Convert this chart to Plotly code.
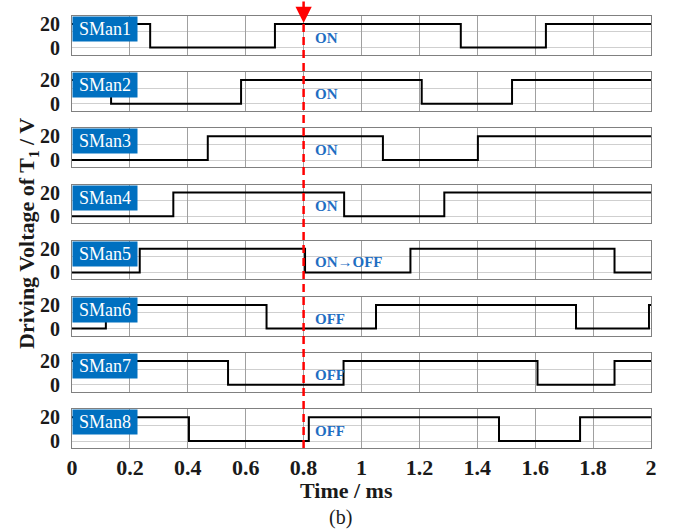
import plotly.graph_objects as go

# ---------------- data ----------------
labels = ["SMan1", "SMan2", "SMan3", "SMan4", "SMan5", "SMan6", "SMan7", "SMan8"]
states = ["ON", "ON", "ON", "ON", "ON→OFF", "OFF", "OFF", "OFF"]

s1_t = [0, 0.270, 0.701, 1.343, 1.637, 2.0]
s1_v = [20, 0, 20, 0, 20, 20]
s2_t = [0, 0.135, 0.584, 1.208, 1.520, 2.0]
s2_v = [20, 0, 20, 0, 20, 20]
s3_t = [0, 0.469, 1.074, 1.402, 2.0]
s3_v = [0, 20, 0, 20, 20]
s4_t = [0, 0.350, 0.940, 1.286, 2.0]
s4_v = [0, 20, 0, 20, 20]
s5_t = [0, 0.234, 0.805, 1.169, 1.874, 2.0]
s5_v = [0, 20, 0, 20, 0, 0]
s6_t = [0, 0.117, 0.672, 1.050, 1.741, 1.993, 2.0]
s6_v = [0, 20, 0, 20, 0, 20, 20]
s7_t = [0, 0.539, 0.938, 1.608, 1.874, 2.0]
s7_v = [20, 0, 20, 0, 20, 20]
s8_t = [0, 0.404, 0.818, 1.475, 1.755, 2.0]
s8_v = [20, 0, 20, 0, 20, 20]

series_t = [s1_t, s2_t, s3_t, s4_t, s5_t, s6_t, s7_t, s8_t]
series_v = [s1_v, s2_v, s3_v, s4_v, s5_v, s6_v, s7_v, s8_v]

x_ticks = [0, 0.2, 0.4, 0.6, 0.8, 1.0, 1.2, 1.4, 1.6, 1.8, 2.0]
y_ticks = [0, 20]
y_grid = [0, 13.33]
t_event = 0.8
state_t = 0.833
state_v = 8.4

# ---------------- layout geometry ----------------
W, H = 680, 531
ml, mr, mt, mb = 72, 29, 16, 83
ph = H - mt - mb
panel_h = 38.6
gap = (ph - 8 * panel_h) / 7

BLUE_BOX = "#0070C0"
BLUE_TXT = "#1F6EC2"
SERIF = "Liberation Serif, Times New Roman, serif"

fig = go.Figure()
layout = dict(
    width=W, height=H,
    margin=dict(l=ml, r=mr, t=mt, b=mb),
    plot_bgcolor="white", paper_bgcolor="white",
    showlegend=False,
    font=dict(family=SERIF, color="#1a1a1a"),
)
annotations = []
shapes = []

for i in range(8):
    n = i + 1
    xa = "x" if n == 1 else f"x{n}"
    ya = "y" if n == 1 else f"y{n}"
    top_px = i * (panel_h + gap)
    bot_px = top_px + panel_h
    dom = [max(0.0, min(1.0, round(1 - bot_px / ph, 5))),
           max(0.0, min(1.0, round(1 - top_px / ph, 5)))]
    fig.add_trace(go.Scatter(
        x=series_t[i], y=series_v[i], mode="lines",
        line=dict(color="black", width=2, shape="hv"),
        xaxis=xa, yaxis=ya, hoverinfo="skip",
    ))
    xkey = "xaxis" if n == 1 else f"xaxis{n}"
    ykey = "yaxis" if n == 1 else f"yaxis{n}"
    layout[xkey] = dict(
        domain=[0, 1], anchor=ya, range=[0, 2],
        tickmode="array", tickvals=x_ticks,
        showticklabels=(n == 8),
        showgrid=True, gridcolor="#a0a0a0", gridwidth=1,
        showline=True, linecolor="#808080", linewidth=1, mirror=True,
        ticks="", zeroline=False,
        tickfont=dict(family=SERIF, size=22, color="#1a1a1a", weight="bold"),
    )
    if n != 1:
        layout[xkey]["matches"] = "x"
    layout[ykey] = dict(
        domain=dom, anchor=xa, range=[-5.9, 26.67],
        tickmode="array", tickvals=y_ticks,
        showgrid=False,
        minor=dict(tickmode="array", tickvals=y_grid, showgrid=True,
                   gridcolor="#cfcfcf", gridwidth=1, ticks=""),
        showline=True, linecolor="#808080", linewidth=1, mirror=True,
        ticks="", zeroline=False, ticklabelstandoff=7,
        tickfont=dict(family=SERIF, size=20, color="#1a1a1a", weight="bold"),
    )
    annotations.append(dict(
        x=0, y=1, xref=f"{xa} domain", yref=f"{ya} domain",
        xanchor="left", yanchor="top", showarrow=False,
        text=labels[i], font=dict(family=SERIF, size=18, color="white"),
        bgcolor=BLUE_BOX, width=60, height=20, borderpad=2, align="center",
    ))
    annotations.append(dict(
        x=state_t, y=state_v, xref=xa, yref=ya,
        xanchor="left", yanchor="middle", showarrow=False,
        text=f"<b>{states[i]}</b>", font=dict(family=SERIF, size=15, color=BLUE_TXT),
    ))

# red dashed event line
tip_px = 23
y_tip = 1 - (tip_px - mt) / ph
shapes.append(dict(
    type="line", xref="x", yref="paper",
    x0=t_event, x1=t_event, y0=0, y1=y_tip,
    line=dict(color="#FF0000", width=2.5, dash="8px,5px"),
))
annotations.append(dict(
    x=t_event, y=y_tip, xref="x", yref="paper",
    showarrow=True, ax=0, ay=-tip_px, axref="pixel", ayref="pixel",
    arrowhead=2, arrowsize=1.3, arrowwidth=2.5, arrowcolor="#FF0000", text="",
))

# axis titles
annotations.append(dict(
    x=(346 - ml) / (W - ml - mr), y=-(490 - (H - mb)) / ph,
    xref="paper", yref="paper", showarrow=False,
    xanchor="center", yanchor="middle",
    text="<b>Time / ms</b>", font=dict(family=SERIF, size=22, color="#1a1a1a"),
))
annotations.append(dict(
    x=(340 - ml) / (W - ml - mr), y=-(517 - (H - mb)) / ph,
    xref="paper", yref="paper", showarrow=False,
    xanchor="center", yanchor="middle",
    text="(b)", font=dict(family=SERIF, size=20, color="#1a1a1a"),
))
annotations.append(dict(
    x=(28 - ml) / (W - ml - mr), y=1 - (234 - mt) / ph,
    xref="paper", yref="paper", showarrow=False,
    xanchor="center", yanchor="middle", textangle=-90,
    text="<b>Driving Voltage of T<sub>1</sub> / V</b>",
    font=dict(family=SERIF, size=22, color="#1a1a1a"),
))

layout["annotations"] = annotations
layout["shapes"] = shapes
fig.update_layout(**layout)
fig.write_html("out.html",
               config={"displayModeBar": False},
               post_script="document.body.style.margin='0px';document.body.style.overflow='hidden';")
